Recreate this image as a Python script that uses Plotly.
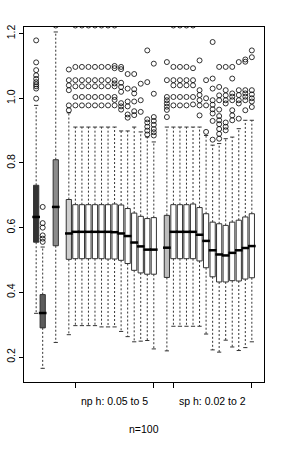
import plotly.graph_objects as go

# ---------------- data ----------------
box_pos = [1, 2, 4] + list(range(6, 20)) + list(range(21, 35))

q1 = [0.555, 0.290, 0.544,
      0.502, 0.504, 0.504, 0.504, 0.504, 0.504, 0.503, 0.503, 0.499, 0.489, 0.468, 0.460, 0.456, 0.456,
      0.446, 0.504, 0.504, 0.504, 0.504, 0.497, 0.476, 0.448, 0.432, 0.432, 0.436, 0.435, 0.441, 0.445]
median = [0.633, 0.336, 0.664,
          0.582, 0.587, 0.587, 0.587, 0.587, 0.587, 0.587, 0.586, 0.582, 0.574, 0.554, 0.542, 0.532, 0.532,
          0.538, 0.587, 0.587, 0.587, 0.587, 0.578, 0.559, 0.530, 0.517, 0.514, 0.522, 0.530, 0.537, 0.543]
q3 = [0.731, 0.393, 0.810,
      0.687, 0.671, 0.671, 0.671, 0.671, 0.671, 0.671, 0.673, 0.670, 0.659, 0.645, 0.635, 0.628, 0.631,
      0.638, 0.671, 0.671, 0.671, 0.673, 0.662, 0.643, 0.617, 0.612, 0.607, 0.617, 0.623, 0.633, 0.643]
whisker_low = [0.335, 0.165, 0.245,
               0.269, 0.297, 0.297, 0.297, 0.297, 0.293, 0.293, 0.293, 0.279, 0.263, 0.247, 0.249, 0.251, 0.225,
               0.219, 0.295, 0.295, 0.295, 0.295, 0.295, 0.271, 0.222, 0.215, 0.252, 0.231, 0.220, 0.229, 0.247]
whisker_high = [0.978, 0.540, 1.205,
                0.955, 0.911, 0.911, 0.911, 0.911, 0.911, 0.911, 0.911, 0.899, 0.899, 0.911, 0.896, 0.880, 0.865,
                0.911, 0.911, 0.911, 0.911, 0.911, 0.911, 0.885, 0.855, 0.860, 0.875, 0.880, 0.906, 0.932, 0.932]

np_common = [0.978, 1.004, 1.037, 1.056, 1.097, 1.225]
sp_common = [0.978, 1.004, 1.040, 1.056, 1.097, 1.225]
outliers = [
    [0.999, 1.030, 1.037, 1.043, 1.050, 1.060, 1.071, 1.087, 1.111, 1.179],
    [0.556, 0.566, 0.576, 0.600, 0.614, 0.664],
    [1.225],
    [0.963, 0.978, 1.025, 1.040, 1.056, 1.089],
    np_common, np_common, np_common, np_common, np_common, np_common,
    [0.978, 0.995, 1.004, 1.037, 1.046, 1.056, 1.093, 1.100, 1.225],
    [0.965, 0.975, 0.985, 1.020, 1.035, 1.048, 1.090, 1.097],
    [0.940, 0.950, 0.975, 0.990, 1.030, 1.075],
    [0.948, 0.960, 0.990, 1.015, 1.028, 1.075],
    [0.958, 0.994, 1.045],
    [0.888, 0.900, 0.912, 0.925, 0.935, 1.050, 1.148],
    [0.885, 0.895, 0.905, 0.918, 0.930, 0.942, 1.014, 1.107],
    [0.942, 0.964, 0.974, 0.984, 0.994, 1.004, 1.056, 1.112],
    sp_common, sp_common, sp_common,
    [0.981, 1.004, 1.040, 1.056, 1.093, 1.225],
    [0.947, 0.978, 0.994, 1.010, 1.025, 1.117],
    [0.896, 0.978, 1.000, 1.056],
    [0.872, 0.930, 0.953, 0.966, 0.980, 0.994, 1.030, 1.061, 1.174],
    [0.875, 0.890, 0.905, 0.920, 0.932, 0.945, 0.965, 0.994, 1.009, 1.035, 1.097],
    [0.901, 0.912, 0.925, 0.984, 0.994, 1.009, 1.025, 1.097],
    [0.932, 0.947, 0.963, 0.994, 1.005, 1.015, 1.061, 1.097],
    [0.937, 0.984, 0.994, 1.010, 1.025, 1.112],
    [0.963, 0.994, 1.005, 1.015, 1.025, 1.113, 1.120],
    [0.973, 0.990, 1.000, 1.012, 1.025, 1.127, 1.148],
]

group_ticks = [7, 19, 22, 34]
group_label_pos = [13, 28]
group_labels = ["np h: 0.05 to 5", "sp h: 0.02 to 2"]
y_ticks = [0.2, 0.4, 0.6, 0.8, 1.0, 1.2]
x_title = "n=100"

# ---------------- styles ----------------
special_fill = {1: "#333333", 2: "#5c5c5c", 4: "#8c8c8c", 6: "#cfcfcf", 21: "#bdbdbd"}
default_fill = "#ffffff"
edge = "#333333"
FONT = "Liberation Sans, Arial, sans-serif"
BOXW = 0.8

fig = go.Figure()

# whiskers (dashed)
wx, wy = [], []
for p, a, b, lo, hi in zip(box_pos, q1, q3, whisker_low, whisker_high):
    wx += [p, p, None, p, p, None]
    wy += [b, hi, None, a, lo, None]
fig.add_trace(go.Scatter(x=wx, y=wy, mode="lines",
                         line=dict(color=edge, width=1, dash="2px,2px"),
                         hoverinfo="skip", showlegend=False))

# staples
fig.add_trace(go.Scatter(x=box_pos + box_pos, y=whisker_low + whisker_high, mode="markers",
                         marker=dict(symbol="line-ew", size=3, line=dict(color=edge, width=1)),
                         hoverinfo="skip", showlegend=False))

# boxes
for i, p in enumerate(box_pos):
    fig.add_trace(go.Box(x=[p], q1=[q1[i]], median=[median[i]], q3=[q3[i]],
                         lowerfence=[q1[i]], upperfence=[q3[i]],
                         width=BOXW, whiskerwidth=0,
                         fillcolor=special_fill.get(p, default_fill),
                         line=dict(color=edge, width=1),
                         boxpoints=False, hoverinfo="skip", showlegend=False))

# medians (thick)
fig.add_trace(go.Scatter(x=box_pos, y=median, mode="markers",
                         marker=dict(symbol="line-ew", size=5.5, line=dict(color="black", width=2.5)),
                         hoverinfo="skip", showlegend=False))

# outliers
ox, oy = [], []
for p, outs in zip(box_pos, outliers):
    ox += [p] * len(outs)
    oy += outs
fig.add_trace(go.Scatter(x=ox, y=oy, mode="markers", cliponaxis=True,
                         marker=dict(symbol="circle-open", size=5, color="black",
                                     line=dict(color="black", width=0.8)),
                         hoverinfo="skip", showlegend=False))

annotations = []
for xp, lab in zip(group_label_pos, group_labels):
    annotations.append(dict(x=xp, y=-0.054, xref="x", yref="paper", text=lab, showarrow=False,
                            xanchor="center", yanchor="middle",
                            font=dict(family=FONT, size=10.5, color="black")))
annotations.append(dict(x=0.5, y=-0.132, xref="paper", yref="paper", text=x_title, showarrow=False,
                        xanchor="center", yanchor="middle",
                        font=dict(family=FONT, size=10.5, color="black")))

fig.update_layout(
    width=284, height=463,
    margin=dict(l=24, r=20, t=27, b=81, pad=0, autoexpand=False),
    paper_bgcolor="white", plot_bgcolor="white",
    boxmode="overlay", showlegend=False, hovermode=False,
    annotations=annotations,
    xaxis=dict(range=[-0.86, 35.86], showgrid=False, zeroline=False, automargin=False,
               showline=True, mirror=True, linecolor="black", linewidth=1,
               tickmode="array", tickvals=group_ticks, ticks="outside", ticklen=5,
               tickcolor="black", tickwidth=1, showticklabels=False),
    yaxis=dict(range=[0.1227, 1.2204], showgrid=False, zeroline=False, automargin=False,
               showline=True, mirror=True, linecolor="black", linewidth=1,
               tickmode="array", tickvals=y_ticks, ticktext=[f"{v:.1f}" for v in y_ticks],
               ticks="outside", ticklen=4, tickcolor="black", tickwidth=1,
               tickangle=-90, tickfont=dict(family=FONT, size=10.5, color="black")),
)

fig.write_html("out.html",
               config={"displayModeBar": False, "staticPlot": True},
               post_script="document.body.style.margin='0px';document.body.style.overflow='hidden';")
